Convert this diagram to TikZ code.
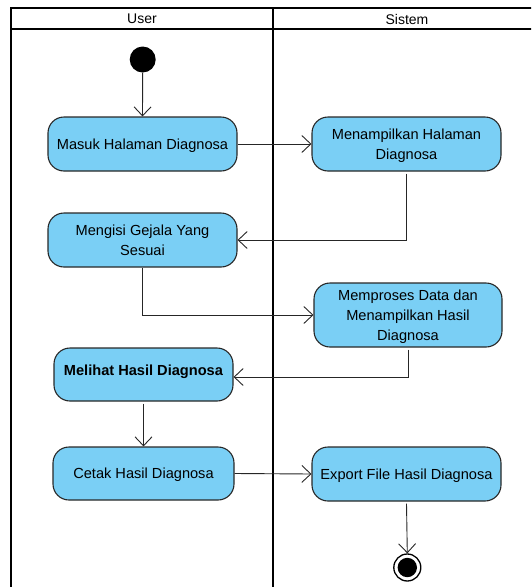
\documentclass[tikz,border=0pt]{standalone}
\usepackage{fontspec}
\setmainfont{Liberation Sans}
\usetikzlibrary{arrows.meta}
\definecolor{actfill}{RGB}{122,207,245}
\definecolor{actline}{RGB}{40,40,40}
\begin{document}
\begin{tikzpicture}[x=1pt,y=-1pt,
  act/.style={draw=actline,line width=1.1pt,fill=actfill,rounded corners=16pt,
    minimum width=189pt,minimum height=54pt,align=center,inner sep=0pt,
    text depth=0pt,font=\fontsize{14.6}{20}\selectfont},
  flow/.style={draw=black!85,line width=0.9pt,
    -{Straight Barb[length=9pt,width=17pt,line width=0.9pt]}},
  lane/.style={line width=2pt,black},
  hdr/.style={font=\fontsize{14}{16}\selectfont}]
\useasboundingbox (0,0) rectangle (531,587);
\begin{scope}
  \clip (0,0) rectangle (531,587);
  \draw[lane] (11,8) -- (540,8);
  \draw[lane] (11,29) -- (540,29);
  \draw[lane] (11,7) -- (11,600);
  \draw[lane] (272.5,7) -- (272.5,600);
\end{scope}
\node[hdr] (hu) at (142,19) {User};
\node[hdr] (hs) at (407,19) {Sistem};

\node[circle,fill=black,minimum size=26pt,inner sep=0pt] (start) at (142.7,59.5) {};

\node[act] (b1) at (142.5,144) {Masuk Halaman Diagnosa};
\node[act] (b3) at (406.5,144) {Menampilkan Halaman\\Diagnosa};
\node[act] (b2) at (142.5,240) {Mengisi Gejala Yang\\Sesuai};
\node[act,minimum width=188pt,minimum height=64pt] (b4) at (408,315) {Memproses Data dan\\Menampilkan Hasil\\Diagnosa};
\node[act,minimum width=179pt,minimum height=53pt] (b5) at (143.5,374.5) {\raisebox{8pt}{\textbf{Melihat Hasil Diagnosa}}};
\node[act,minimum width=181pt,minimum height=53pt] (b6) at (143.5,473.5) {Cetak Hasil Diagnosa};
\node[act] (b7) at (406.5,474) {Export File Hasil Diagnosa};

\node[circle,draw=black,line width=1.3pt,fill=white,minimum size=27pt,inner sep=0pt] (end) at (407.3,567.5) {};
\fill[black] (end.center) circle (9.7pt);

\draw[flow] (start) -- (b1.north);
\draw[flow] (b1.east) -- (b3.west);
\draw[flow] ([yshift=-2pt]b3.south) |- (b2.east);
\draw[flow] (b2.south) |- (b4.west);
\draw[flow] ([yshift=-2pt]b4.south) |- ([yshift=-2.5pt]b5.east);
\draw[flow] ([yshift=-2pt]b5.south) -- (b6.north);
\draw[flow] (b6.east) -- (b7.west);
\draw[flow] ([yshift=-2pt]b7.south) -- (end.north);
\end{tikzpicture}
\end{document}
